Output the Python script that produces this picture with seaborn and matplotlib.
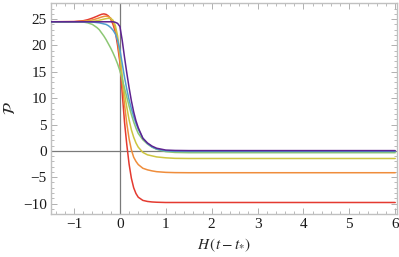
import numpy as np
import pandas as pd
import matplotlib
matplotlib.use("Agg")
import matplotlib.pyplot as plt
from matplotlib.ticker import MultipleLocator
import seaborn as sns

# Shared sample positions along H(t - t*)
x_vals = [-1.5, -1.0, -0.8, -0.7, -0.6, -0.5, -0.45, -0.4, -0.35, -0.3, -0.25,
          -0.2, -0.15, -0.1, -0.05, 0.0, 0.05, 0.1, 0.15, 0.2, 0.25, 0.3, 0.35,
          0.4, 0.5, 0.6, 0.7, 0.8, 1.0, 1.2, 1.5, 2.0, 3.0, 6.0]

red = [24.5, 24.55, 24.7, 24.9, 25.2, 25.55, 25.75, 25.92, 26.0, 25.9, 25.6,
       25.0, 24.0, 22.6, 20.0, 16.8, 11.0, 5.5, 1.2, -2.5, -5.2, -7.0, -8.1,
       -8.8, -9.4, -9.6, -9.7, -9.75, -9.8, -9.8, -9.8, -9.8, -9.8, -9.8]

orange = [24.5, 24.5, 24.6, 24.7, 24.85, 25.1, 25.25, 25.4, 25.52, 25.58, 25.5,
          25.2, 24.5, 23.2, 21.0, 17.5, 13.0, 8.8, 5.2, 2.3, 0.2, -1.2, -2.0,
          -2.6, -3.3, -3.6, -3.8, -3.95, -4.08, -4.13, -4.15, -4.15, -4.15, -4.15]

yellow = [24.5, 24.5, 24.52, 24.55, 24.6, 24.7, 24.8, 24.9, 25.0, 25.1, 25.17,
          25.12, 24.8, 23.8, 21.8, 18.3, 14.3, 10.8, 8.3, 5.9, 4.0, 2.6, 1.5,
          0.7, -0.3, -0.75, -0.95, -1.15, -1.32, -1.42, -1.45, -1.45, -1.45, -1.45]

green = [24.5, 24.5, 24.45, 24.3, 24.0, 23.4, 23.0, 22.4, 21.8, 21.1, 20.3,
         19.5, 18.6, 17.6, 16.5, 15.2, 13.6, 11.9, 10.2, 8.5, 6.9, 5.5, 4.3,
         3.3, 2.1, 1.3, 0.7, 0.3, -0.15, -0.3, -0.35, -0.35, -0.35, -0.35]

blue = [24.5, 24.5, 24.5, 24.48, 24.45, 24.35, 24.3, 24.2, 24.1, 24.0, 23.75,
        23.4, 22.9, 22.2, 21.0, 19.2, 16.6, 14.0, 11.7, 9.7, 8.0, 6.5, 5.2,
        4.1, 2.4, 1.4, 0.75, 0.35, 0.0, -0.08, -0.1, -0.1, -0.1, -0.1]

purple = [24.5, 24.5, 24.5, 24.5, 24.5, 24.5, 24.5, 24.5, 24.5, 24.5, 24.5,
          24.5, 24.5, 24.4, 24.2, 23.6, 21.0, 17.8, 14.8, 12.0, 9.5, 7.4, 5.7,
          4.4, 2.4, 1.5, 0.9, 0.5, 0.15, 0.08, 0.05, 0.05, 0.05, 0.05]

series_names = ["red", "orange", "yellow", "green", "blue", "purple"]
series_values = [red, orange, yellow, green, blue, purple]
palette = ["#e43a30", "#ef8d3c", "#cdc540", "#8dc774", "#509fcf", "#5e2390"]

x_ticks = [-1, 0, 1, 2, 3, 4, 5, 6]
y_ticks = [-10, -5, 0, 5, 10, 15, 20, 25]

df = pd.concat(
    [pd.DataFrame({"x": x_vals, "y": v, "series": n})
     for n, v in zip(series_names, series_values)],
    ignore_index=True)

sns.set_style("ticks")
plt.rcParams["font.family"] = ["Liberation Serif", "DejaVu Serif"]
plt.rcParams["mathtext.fontset"] = "stix"

fig = plt.figure(figsize=(3.99, 2.57), dpi=100)
ax = fig.add_axes([0.128, 0.167, 0.866, 0.822])

# axis lines through origin
ax.axhline(0, color="#7a7a7a", lw=0.9, zorder=1)
ax.axvline(0, color="#7a7a7a", lw=0.9, zorder=1)

sns.lineplot(data=df, x="x", y="y", hue="series", hue_order=series_names,
             palette=palette, sort=False, legend=False, lw=1.1, ax=ax, zorder=3)

ax.set_xlim(-1.5, 6.03)
ax.set_ylim(-12, 28.1)
ax.set_xticks(x_ticks)
ax.set_xticklabels([str(t).replace("-", "\u2212") for t in x_ticks])
ax.set_yticks(y_ticks)
ax.set_yticklabels([str(t).replace("-", "\u2212") for t in y_ticks])
ax.xaxis.set_minor_locator(MultipleLocator(0.2))
ax.yaxis.set_minor_locator(MultipleLocator(1))
ax.tick_params(which="both", direction="in", top=True, right=True,
               color="#b0b0b0", labelsize=11, labelcolor="#1a1a1a", pad=3)
ax.tick_params(which="major", length=4, width=0.7)
ax.tick_params(which="minor", length=2, width=0.6)
for s in ax.spines.values():
    s.set_color("#c0c0c0")
    s.set_linewidth(1.0)

ax.set_xlabel(r"$H\,(t-t_{*})$", fontsize=11, labelpad=4)
ax.set_ylabel(r"$\mathcal{P}$", fontsize=12, labelpad=3)

fig.savefig("out.png", dpi=100)
